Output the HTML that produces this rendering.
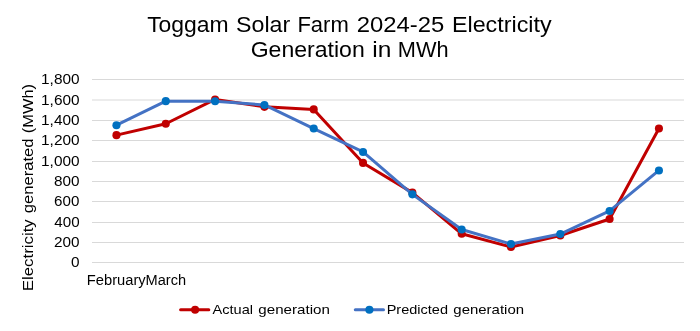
<!DOCTYPE html>
<html><head><meta charset="utf-8"><style>
html,body{margin:0;padding:0;background:#fff;width:700px;height:331px;overflow:hidden}
svg{display:block;will-change:transform}
</style></head><body>
<svg width="700" height="331" viewBox="0 0 700 331">
<rect width="700" height="331" fill="#fff"/>
<line x1="92.0" x2="684.0" y1="262.50" y2="262.50" stroke="#d9d9d9" stroke-width="1"/>
<line x1="92.0" x2="684.0" y1="242.50" y2="242.50" stroke="#d9d9d9" stroke-width="1"/>
<line x1="92.0" x2="684.0" y1="222.50" y2="222.50" stroke="#d9d9d9" stroke-width="1"/>
<line x1="92.0" x2="684.0" y1="201.50" y2="201.50" stroke="#d9d9d9" stroke-width="1"/>
<line x1="92.0" x2="684.0" y1="181.50" y2="181.50" stroke="#d9d9d9" stroke-width="1"/>
<line x1="92.0" x2="684.0" y1="161.50" y2="161.50" stroke="#d9d9d9" stroke-width="1"/>
<line x1="92.0" x2="684.0" y1="140.50" y2="140.50" stroke="#d9d9d9" stroke-width="1"/>
<line x1="92.0" x2="684.0" y1="120.50" y2="120.50" stroke="#d9d9d9" stroke-width="1"/>
<line x1="92.0" x2="684.0" y1="100.00" y2="100.00" stroke="#d9d9d9" stroke-width="1"/>
<line x1="92.0" x2="684.0" y1="79.50" y2="79.50" stroke="#d9d9d9" stroke-width="1"/>
<polyline points="116.46,135.14 165.78,123.75 215.09,99.44 264.41,106.87 313.73,109.41 363.04,162.91 412.36,192.62 461.68,233.81 510.99,247.04 560.31,235.54 609.62,218.96 658.94,128.53" fill="none" stroke="#c00000" stroke-width="3" stroke-linejoin="round" stroke-linecap="round"/><circle cx="116.46" cy="135.14" r="4.05" fill="#c00000"/><circle cx="165.78" cy="123.75" r="4.05" fill="#c00000"/><circle cx="215.09" cy="99.44" r="4.05" fill="#c00000"/><circle cx="264.41" cy="106.87" r="4.05" fill="#c00000"/><circle cx="313.73" cy="109.41" r="4.05" fill="#c00000"/><circle cx="363.04" cy="162.91" r="4.05" fill="#c00000"/><circle cx="412.36" cy="192.62" r="4.05" fill="#c00000"/><circle cx="461.68" cy="233.81" r="4.05" fill="#c00000"/><circle cx="510.99" cy="247.04" r="4.05" fill="#c00000"/><circle cx="560.31" cy="235.54" r="4.05" fill="#c00000"/><circle cx="609.62" cy="218.96" r="4.05" fill="#c00000"/><circle cx="658.94" cy="128.53" r="4.05" fill="#c00000"/>
<polyline points="116.46,125.18 165.78,101.17 215.09,101.27 264.41,104.93 313.73,128.53 363.04,151.93 412.36,194.35 461.68,229.44 510.99,243.99 560.31,234.02 609.62,210.93 658.94,170.44" fill="none" stroke="#4472c4" stroke-width="3" stroke-linejoin="round" stroke-linecap="round"/><circle cx="116.46" cy="125.18" r="4.05" fill="#0070c0"/><circle cx="165.78" cy="101.17" r="4.05" fill="#0070c0"/><circle cx="215.09" cy="101.27" r="4.05" fill="#0070c0"/><circle cx="264.41" cy="104.93" r="4.05" fill="#0070c0"/><circle cx="313.73" cy="128.53" r="4.05" fill="#0070c0"/><circle cx="363.04" cy="151.93" r="4.05" fill="#0070c0"/><circle cx="412.36" cy="194.35" r="4.05" fill="#0070c0"/><circle cx="461.68" cy="229.44" r="4.05" fill="#0070c0"/><circle cx="510.99" cy="243.99" r="4.05" fill="#0070c0"/><circle cx="560.31" cy="234.02" r="4.05" fill="#0070c0"/><circle cx="609.62" cy="210.93" r="4.05" fill="#0070c0"/><circle cx="658.94" cy="170.44" r="4.05" fill="#0070c0"/>
<line x1="180.6" x2="208.8" y1="309.8" y2="309.8" stroke="#c00000" stroke-width="3" stroke-linecap="round"/>
<circle cx="195.1" cy="309.8" r="4.05" fill="#c00000"/>
<line x1="355.3" x2="383.5" y1="309.8" y2="309.8" stroke="#4472c4" stroke-width="3" stroke-linecap="round"/>
<circle cx="369.4" cy="309.8" r="4.05" fill="#0070c0"/>
<text x="147.15" y="31.75" font-size="21.2" fill="#000" font-family="Liberation Sans, sans-serif" textLength="81.60" lengthAdjust="spacingAndGlyphs">Toggam</text>
<text x="236.00" y="31.75" font-size="21.2" fill="#000" font-family="Liberation Sans, sans-serif" textLength="54.20" lengthAdjust="spacingAndGlyphs">Solar</text>
<text x="297.40" y="31.75" font-size="21.2" fill="#000" font-family="Liberation Sans, sans-serif" textLength="51.35" lengthAdjust="spacingAndGlyphs">Farm</text>
<text x="356.70" y="31.75" font-size="21.2" fill="#000" font-family="Liberation Sans, sans-serif" textLength="87.55" lengthAdjust="spacingAndGlyphs">2024-25</text>
<text x="451.95" y="31.75" font-size="21.2" fill="#000" font-family="Liberation Sans, sans-serif" textLength="99.65" lengthAdjust="spacingAndGlyphs">Electricity</text>
<text x="250.70" y="56.70" font-size="21.2" fill="#000" font-family="Liberation Sans, sans-serif" textLength="114.05" lengthAdjust="spacingAndGlyphs">Generation</text>
<text x="372.20" y="56.70" font-size="21.2" fill="#000" font-family="Liberation Sans, sans-serif" textLength="19.10" lengthAdjust="spacingAndGlyphs">in</text>
<text x="397.75" y="56.70" font-size="21.2" fill="#000" font-family="Liberation Sans, sans-serif" textLength="50.80" lengthAdjust="spacingAndGlyphs">MWh</text>
<text x="71.05" y="267.00" font-size="14" fill="#000" font-family="Liberation Sans, sans-serif" textLength="8.55" lengthAdjust="spacingAndGlyphs">0</text>
<text x="54.05" y="247.00" font-size="14" fill="#000" font-family="Liberation Sans, sans-serif" textLength="25.55" lengthAdjust="spacingAndGlyphs">200</text>
<text x="54.30" y="227.00" font-size="14" fill="#000" font-family="Liberation Sans, sans-serif" textLength="25.30" lengthAdjust="spacingAndGlyphs">400</text>
<text x="54.05" y="206.00" font-size="14" fill="#000" font-family="Liberation Sans, sans-serif" textLength="25.30" lengthAdjust="spacingAndGlyphs">600</text>
<text x="54.05" y="186.00" font-size="14" fill="#000" font-family="Liberation Sans, sans-serif" textLength="25.55" lengthAdjust="spacingAndGlyphs">800</text>
<text x="41.05" y="166.00" font-size="14" fill="#000" font-family="Liberation Sans, sans-serif" textLength="38.55" lengthAdjust="spacingAndGlyphs">1,000</text>
<text x="41.05" y="145.00" font-size="14" fill="#000" font-family="Liberation Sans, sans-serif" textLength="38.55" lengthAdjust="spacingAndGlyphs">1,200</text>
<text x="41.05" y="125.00" font-size="14" fill="#000" font-family="Liberation Sans, sans-serif" textLength="38.55" lengthAdjust="spacingAndGlyphs">1,400</text>
<text x="41.05" y="105.00" font-size="14" fill="#000" font-family="Liberation Sans, sans-serif" textLength="38.55" lengthAdjust="spacingAndGlyphs">1,600</text>
<text x="41.05" y="84.00" font-size="14" fill="#000" font-family="Liberation Sans, sans-serif" textLength="38.55" lengthAdjust="spacingAndGlyphs">1,800</text>
<text transform="translate(33.10,291.20) rotate(-90)" x="0" y="0" font-size="14" fill="#000" font-family="Liberation Sans, sans-serif" textLength="71.95" lengthAdjust="spacingAndGlyphs">Electricity</text>
<text transform="translate(33.10,213.30) rotate(-90)" x="0" y="0" font-size="14" fill="#000" font-family="Liberation Sans, sans-serif" textLength="74.80" lengthAdjust="spacingAndGlyphs">generated</text>
<text transform="translate(33.10,133.25) rotate(-90)" x="0" y="0" font-size="14" fill="#000" font-family="Liberation Sans, sans-serif" textLength="49.26" lengthAdjust="spacingAndGlyphs">(MWh)</text>
<text x="86.80" y="285.00" font-size="14" fill="#000" font-family="Liberation Sans, sans-serif" textLength="58.85" lengthAdjust="spacingAndGlyphs">February</text>
<text x="145.55" y="285.00" font-size="14" fill="#000" font-family="Liberation Sans, sans-serif" textLength="40.50" lengthAdjust="spacingAndGlyphs">March</text>
<text x="212.50" y="314.10" font-size="13.5" fill="#000" font-family="Liberation Sans, sans-serif" textLength="40.50" lengthAdjust="spacingAndGlyphs">Actual</text>
<text x="258.35" y="314.10" font-size="13.5" fill="#000" font-family="Liberation Sans, sans-serif" textLength="71.50" lengthAdjust="spacingAndGlyphs">generation</text>
<text x="386.70" y="314.10" font-size="13.5" fill="#000" font-family="Liberation Sans, sans-serif" textLength="61.30" lengthAdjust="spacingAndGlyphs">Predicted</text>
<text x="453.35" y="314.10" font-size="13.5" fill="#000" font-family="Liberation Sans, sans-serif" textLength="70.70" lengthAdjust="spacingAndGlyphs">generation</text>
</svg>
</body></html>
